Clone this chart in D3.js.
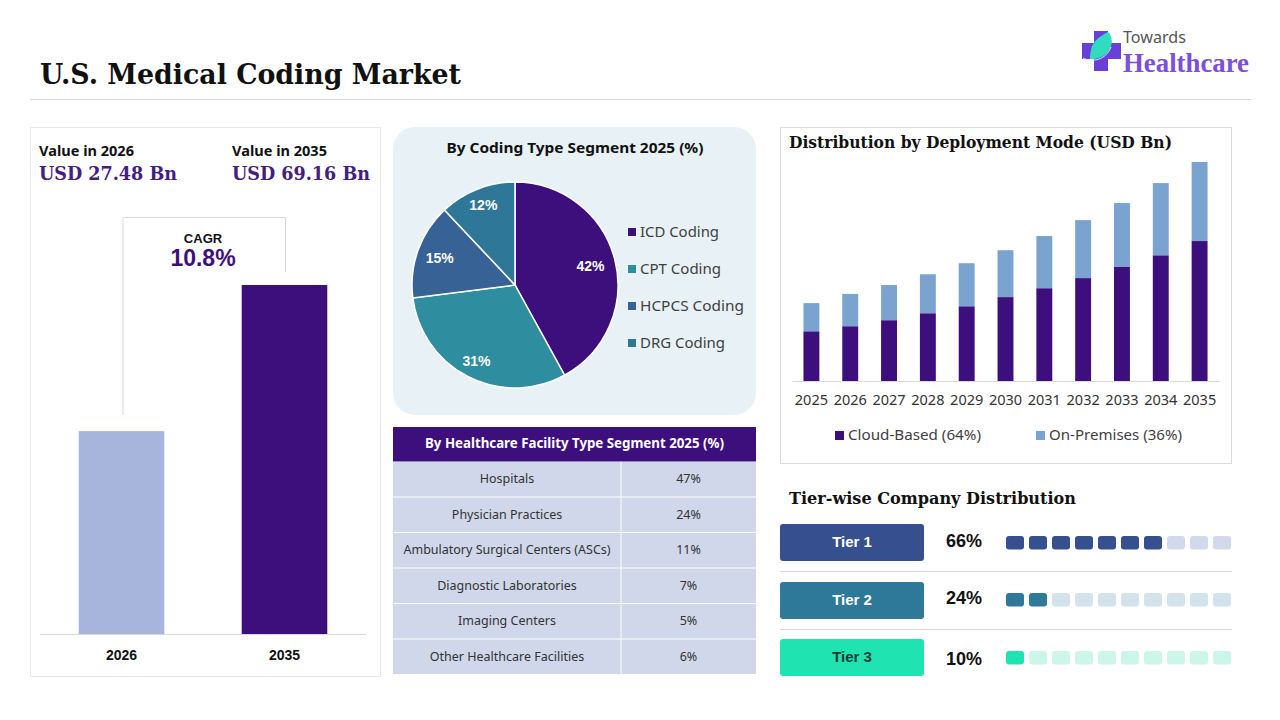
<!DOCTYPE html>
<html>
<head>
<meta charset="utf-8">
<script src="https://cdn.jsdelivr.net/npm/d3@7"></script>
<style>
    html, body { margin: 0; padding: 0; background: #fff; overflow: hidden; }
    svg { display: block; }
    .domain { stroke: #d9d9d9; }
</style>
</head>
<body>
<div id="chart"></div>
<script>
// left panel
const valueYears = ['2026', '2035'];
const valueLabels = ['USD 27.48 Bn', 'USD 69.16 Bn'];
// the bars in the picture are not to scale with the labels, these are read off their heights
const valueBars = [40.2, 69.16];
const cagrLabel = '10.8%';

// pie
const codingTypes = ['ICD Coding', 'CPT Coding', 'HCPCS Coding', 'DRG Coding'];
const codingShares = [42, 31, 15, 12];

// table
const facilityTypes = ['Hospitals', 'Physician Practices', 'Ambulatory Surgical Centers (ASCs)',
    'Diagnostic Laboratories', 'Imaging Centers', 'Other Healthcare Facilities'];
const facilityShares = [47, 24, 11, 7, 5, 6];

// stacked bars
const years = ['2025', '2026', '2027', '2028', '2029', '2030', '2031', '2032', '2033', '2034', '2035'];
const cloudBased = [15.7, 17.3, 19.2, 21.4, 23.6, 26.5, 29.3, 32.5, 36.0, 39.7, 44.2];
const onPremises = [8.9, 10.2, 11.1, 12.3, 13.6, 14.8, 16.5, 18.3, 20.2, 22.8, 24.96];
const deployLabels = ['Cloud-Based (64%)', 'On-Premises (36%)'];

// tiers
const tierNames = ['Tier 1', 'Tier 2', 'Tier 3'];
const tierShares = [66, 24, 10];
const tierFilled = [7, 2, 1];

const SERIF = '"DejaVu Serif", serif';
const SANS = '"Noto Sans", sans-serif';
const ARIAL = '"Liberation Sans", sans-serif';
const PURPLE = '#3d0f7c';
const GRID = '#d9d9d9';

const svg = d3.select('#chart').append('svg')
    .attr('width', 1280)
    .attr('height', 720);

svg.append('rect').attr('width', 1280).attr('height', 720).attr('fill', '#fff');

function label(parent, str, x, y, size, opts) {
    opts = opts || {};
    const t = parent.append('text')
        .attr('x', x)
        .attr('y', y)
        .attr('text-anchor', opts.anchor || 'start')
        .attr('font-family', opts.font || SANS)
        .attr('font-size', size)
        .attr('font-weight', opts.weight || 'normal')
        .attr('fill', opts.fill || '#000')
        .text(str);
    // squeeze to the width measured on the reference
    if (opts.width) {
        t.attr('textLength', opts.width).attr('lengthAdjust', 'spacingAndGlyphs');
    }
    return t;
}

function hline(parent, x1, x2, y, color) {
    parent.append('line').attr('x1', x1).attr('x2', x2).attr('y1', y).attr('y2', y)
        .attr('stroke', color || GRID).attr('stroke-width', 1);
}

////////////////////////////////////////////////////////
// header
////////////////////////////////////////////////////////
label(svg, 'U.S. Medical Coding Market', 40, 84, 28, {font: SERIF, weight: 'bold', fill: '#111', width: 421});
hline(svg, 30, 1251, 99.5);

const logo = svg.append('g');
logo.append('path')
    .attr('d', 'M1094 31H1108V43H1121V59H1108V71H1094V59H1082V43H1094Z')
    .attr('fill', '#6a3fd8');
// leaf on the cross
logo.append('path')
    .attr('d', 'M1090 59C1098 60 1108 55 1111 46C1113 40 1111 35 1108 32C1100 36 1092 42 1091 50C1090 54 1090 56 1090 59Z')
    .attr('fill', '#2fdcc0');
logo.append('path')
    .attr('d', 'M1083 58C1092 63 1106 60 1111 47')
    .attr('fill', 'none').attr('stroke', '#d6f7f0').attr('stroke-width', 1);
label(logo, 'Towards', 1123, 43, 16, {fill: '#555', width: 63});
label(logo, 'Healthcare', 1123, 72, 28, {font: '"Liberation Serif", serif', weight: 'bold', fill: '#7c4fd8', width: 126});

////////////////////////////////////////////////////////
// left panel: market value
////////////////////////////////////////////////////////
const left = svg.append('g');
left.append('rect').attr('x', 30.5).attr('y', 127.5).attr('width', 350).attr('height', 549)
    .attr('fill', '#fff').attr('stroke', '#e8e8e8');

const valueX = [39, 232];
valueYears.forEach((y, i) => {
    label(left, 'Value in ' + y, valueX[i], 156, 14.5, {weight: 'bold', fill: '#111', width: 95});
    label(left, valueLabels[i], valueX[i], 180, 19, {font: SERIF, weight: 'bold', fill: '#41207f', width: 138});
});

left.append('path')
    .attr('d', 'M123 415V217.5H285.5V272')
    .attr('fill', 'none').attr('stroke', GRID);
label(left, 'CAGR', 203, 243, 13, {anchor: 'middle', font: ARIAL, weight: 'bold', fill: '#111'});
label(left, cagrLabel, 203, 266, 23, {anchor: 'middle', font: ARIAL, weight: 'bold', fill: PURPLE});

const valueXScale = d3.scaleBand().domain(valueYears).range([40, 366]).paddingInner(0.475).paddingOuter(0.2375);
const valueYScale = d3.scaleLinear().domain([0, 69.16]).range([634, 285]);

left.selectAll('.value-bar')
    .data(valueBars)
    .enter().append('rect')
    .attr('class', 'value-bar')
    .attr('x', (d, i) => valueXScale(valueYears[i]))
    .attr('y', d => valueYScale(d))
    .attr('width', valueXScale.bandwidth())
    .attr('height', d => valueYScale(0) - valueYScale(d))
    .attr('fill', (d, i) => ['#a7b4db', PURPLE][i]);

hline(left, 40, 366, 634.5);
valueYears.forEach(y => {
    label(left, y, valueXScale(y) + valueXScale.bandwidth() / 2, 660, 14, {anchor: 'middle', font: ARIAL, weight: 'bold', fill: '#111'});
});

////////////////////////////////////////////////////////
// pie
////////////////////////////////////////////////////////
const piePanel = svg.append('g');
piePanel.append('rect').attr('x', 393).attr('y', 127).attr('width', 363).attr('height', 288)
    .attr('rx', 22).attr('fill', '#e8f2f6');
label(piePanel, 'By Coding Type Segment 2025 (%)', 575, 153, 15, {anchor: 'middle', weight: 'bold', fill: '#111', width: 257});

const pieColors = ['#3d0f7c', '#2e8d9f', '#366296', '#2e7799'];
const pie = d3.pie().sort(null).value(d => d);
const arc = d3.arc().innerRadius(0).outerRadius(103);
const pieG = piePanel.append('g').attr('transform', 'translate(515,285)');

pieG.selectAll('path')
    .data(pie(codingShares))
    .enter().append('path')
    .attr('d', arc)
    .attr('fill', (d, i) => pieColors[i])
    .attr('stroke', '#fff')
    .attr('stroke-width', 1.5);

// each label sits at its own distance from the centre
const labelRadius = [78, 85, 80, 86];
pieG.selectAll('text')
    .data(pie(codingShares))
    .enter().append('text')
    .attr('transform', (d, i) => {
        const r = labelRadius[i];
        return 'translate(' + d3.arc().innerRadius(r).outerRadius(r).centroid(d) + ')';
    })
    .attr('dy', '0.35em')
    .attr('text-anchor', 'middle')
    .attr('font-family', ARIAL)
    .attr('font-weight', 'bold')
    .attr('font-size', 14)
    .attr('fill', '#fff')
    .text(d => d.value + '%');

codingTypes.forEach((name, i) => {
    const y = 232 + i * 37;
    piePanel.append('rect').attr('x', 628).attr('y', y - 4).attr('width', 8).attr('height', 8)
        .attr('fill', pieColors[i]);
    label(piePanel, name, 640, y + 5, 15, {fill: '#404040', width: [79, 81, 104, 85][i]});
});

////////////////////////////////////////////////////////
// table
////////////////////////////////////////////////////////
const table = svg.append('g');
table.append('rect').attr('x', 393).attr('y', 427).attr('width', 363).attr('height', 34.5).attr('fill', PURPLE);
label(table, 'By Healthcare Facility Type Segment 2025 (%)', 574.5, 448, 13.5, {anchor: 'middle', weight: 'bold', fill: '#fff', width: 299});

const rowScale = d3.scaleBand().domain(facilityTypes).range([462, 675]);
table.selectAll('.row')
    .data(facilityTypes)
    .enter().append('rect')
    .attr('class', 'row')
    .attr('x', 393)
    .attr('y', d => rowScale(d))
    .attr('width', 363)
    .attr('height', rowScale.bandwidth() - 1)
    .attr('fill', '#d0d7eb');
table.append('line').attr('x1', 621).attr('x2', 621).attr('y1', 462).attr('y2', 675)
    .attr('stroke', '#fff').attr('stroke-width', 1);

facilityTypes.forEach((name, i) => {
    const y = rowScale(name) + rowScale.bandwidth() / 2 + 3.5;
    label(table, name, 507, y, 12.5, {anchor: 'middle', fill: '#333'});
    label(table, facilityShares[i] + '%', 688.5, y, 12.5, {anchor: 'middle', fill: '#333'});
});

////////////////////////////////////////////////////////
// stacked bars
////////////////////////////////////////////////////////
const deploy = svg.append('g');
deploy.append('rect').attr('x', 780.5).attr('y', 127.5).attr('width', 451).attr('height', 336)
    .attr('fill', '#fff').attr('stroke', '#dcdcdc');
label(deploy, 'Distribution by Deployment Mode (USD Bn)', 789, 148, 16.5, {font: SERIF, weight: 'bold', fill: '#111', width: 383});

const x = d3.scaleBand().domain(years).range([792, 1219]).paddingInner(0.59).paddingOuter(0.295);
const y = d3.scaleLinear().domain([0, 69.16]).range([381, 162]);

const stack = d3.stack().keys(['cloud', 'prem']);
const stackRows = years.map((yr, i) => ({year: yr, cloud: cloudBased[i], prem: onPremises[i]}));
const deployColors = [PURPLE, '#7ba3d0'];

deploy.selectAll('.layer')
    .data(stack(stackRows))
    .enter().append('g')
    .attr('class', 'layer')
    .attr('fill', (d, i) => deployColors[i])
    .selectAll('rect')
    .data(d => d)
    .enter().append('rect')
    .attr('x', d => x(d.data.year))
    .attr('y', d => y(d[1]))
    .attr('width', x.bandwidth())
    .attr('height', d => y(d[0]) - y(d[1]));

const xAxis = deploy.append('g')
    .attr('transform', 'translate(0,381)')
    .call(d3.axisBottom(x).tickSize(0).tickPadding(14));
xAxis.selectAll('text')
    .attr('font-family', SANS)
    .attr('font-size', 14.5)
    .attr('fill', '#333');

[835, 1036].forEach((lx, i) => {
    deploy.append('rect').attr('x', lx).attr('y', 431).attr('width', 9).attr('height', 9)
        .attr('fill', deployColors[i]);
    label(deploy, deployLabels[i], lx + 13, 440, 14, {fill: '#404040', width: 133});
});

////////////////////////////////////////////////////////
// tiers
////////////////////////////////////////////////////////
const tiers = svg.append('g');
label(tiers, 'Tier-wise Company Distribution', 789, 504, 16.5, {font: SERIF, weight: 'bold', fill: '#111', width: 287});

const tierColors = ['#364f8f', '#2e7899', '#20e3b2'];
const tierLight = ['#d3d9ec', '#d2e3ee', '#ccf6ea'];
const tierText = ['#fff', '#fff', '#0c3d33'];
const tierBoxY = [524, 582, 639];
const tierPctY = [547, 604, 665];
const tierSquareY = [536, 593, 651];
const cellScale = d3.scaleBand().domain(d3.range(10)).range([1006, 1231]).paddingInner(0.2174).paddingOuter(0);

tierNames.forEach((name, i) => {
    tiers.append('rect').attr('x', 780).attr('y', tierBoxY[i]).attr('width', 144).attr('height', 37)
        .attr('rx', 3).attr('fill', tierColors[i]);
    label(tiers, name, 852, tierBoxY[i] + 23, 15, {anchor: 'middle', font: ARIAL, weight: 'bold', fill: tierText[i]});
    label(tiers, tierShares[i] + '%', 964, tierPctY[i], 18, {anchor: 'middle', font: ARIAL, weight: 'bold', fill: '#111'});

    tiers.selectAll('.cell' + i)
        .data(d3.range(10))
        .enter().append('rect')
        .attr('class', 'cell' + i)
        .attr('x', d => cellScale(d))
        .attr('y', tierSquareY[i])
        .attr('width', cellScale.bandwidth())
        .attr('height', 13.5)
        .attr('rx', 3)
        .attr('fill', d => d < tierFilled[i] ? tierColors[i] : tierLight[i]);
});
hline(tiers, 780, 1232, 571.5);
hline(tiers, 780, 1232, 629.5);
</script>
</body>
</html>
